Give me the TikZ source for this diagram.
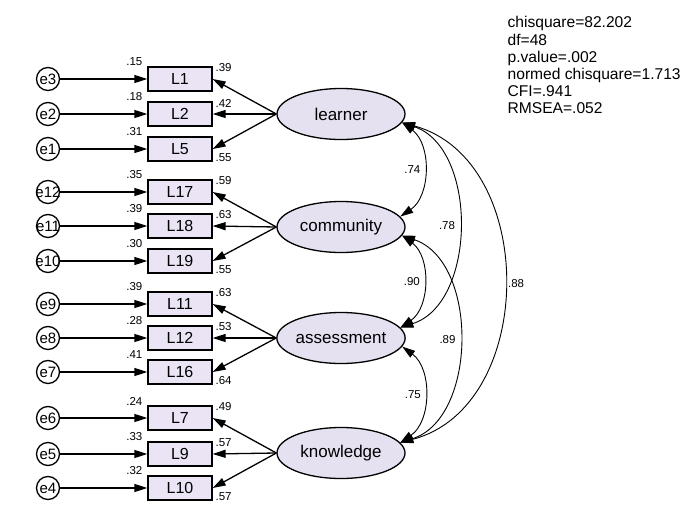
\documentclass[tikz,border=0pt]{standalone}
\usepackage{fontspec}
\setmainfont{Liberation Sans}
\usetikzlibrary{arrows.meta,shapes.geometric}
\definecolor{latfill}{RGB}{230,225,240}
\definecolor{obsfill}{RGB}{234,228,245}

\begin{document}
\begin{tikzpicture}[x=1pt, y=-1pt, line width=1.3pt, >={Triangle[length=13pt,width=8pt]},
    obs/.style={draw, fill=obsfill, minimum width=64pt, minimum height=24pt, inner sep=0pt, font=\fontsize{16}{16}\selectfont},
    lat/.style={draw, ellipse, fill=latfill, minimum width=128pt, minimum height=51pt, inner sep=0pt, font=\fontsize{17}{17}\selectfont},
    err/.style={draw, circle, minimum size=23pt, inner sep=0pt, font=\fontsize{15}{15}\selectfont},
    est/.style={inner sep=0pt, font=\fontsize{11.5}{11.5}\selectfont},
    cov/.style={<->, line width=0.9pt}]
    \useasboundingbox (0,0) rectangle (681,525);
    \node[lat] (learner) at (341,114) {learner};
    \node[lat] (community) at (341,227) {community};
    \node[lat] (assessment) at (341,338) {assessment};
    \node[lat] (knowledge) at (341,453) {knowledge};
    \foreach \e/\l/\y/\r/\b/\dy/\f in {3/1/79/.15/.39/-11/learner, 2/2/114/.18/.42/-11/learner, 1/5/149/.31/.55/9/learner,
        12/17/192/.35/.59/-11/community, 11/18/226/.39/.63/-11/community, 10/19/261/.30/.55/9/community,
        9/11/304/.39/.63/-11/assessment, 8/12/338/.28/.53/-11/assessment, 7/16/372/.41/.64/9/assessment,
        6/7/418/.24/.49/-11/knowledge, 5/9/454/.33/.57/-11/knowledge, 4/10/488/.32/.57/9/knowledge} {
        \node[obs] (L\l) at (180,\y) {L\l};
        \node[err] (e\e) at (48,\y) {\makebox[0pt]{e\e}};
        \draw[->] (e\e) -- (L\l);
        \draw[->] (\f.west) -- (L\l.east);
        \node[est] at ([shift={(-13,-17)}]L\l.west) {\r};
        \node[est] at ([shift={(11,\dy)}]L\l.east) {\b};
    }
    \draw[cov] (learner.-8) to[bend left=55] node[est, left=3pt] {.74} (community.10);
    \draw[cov] (learner.-8) to[bend left=72] node[est, left=3pt] {.78} (assessment.10);
    \draw[cov] (learner.-8) to[bend left=75, looseness=1.13] node[est, right=4pt] {.88} (knowledge.10);
    \draw[cov] (community.-8) to[bend left=55] node[est, left=3pt] {.90} (assessment.10);
    \draw[cov] (community.-8) to[bend left=72] node[est, left=3pt] {.89} (knowledge.10);
    \draw[cov] (assessment.-8) to[bend left=55] node[est, left=3pt] {.75} (knowledge.10);
    \node[anchor=north west, align=left, inner sep=0pt, font=\fontsize{15.6}{17.2}\selectfont] (fit) at (507,16)
        {chisquare=82.202\\df=48\\p.value=.002\\normed chisquare=1.713\\CFI=.941\\RMSEA=.052};
\end{tikzpicture}
\end{document}
